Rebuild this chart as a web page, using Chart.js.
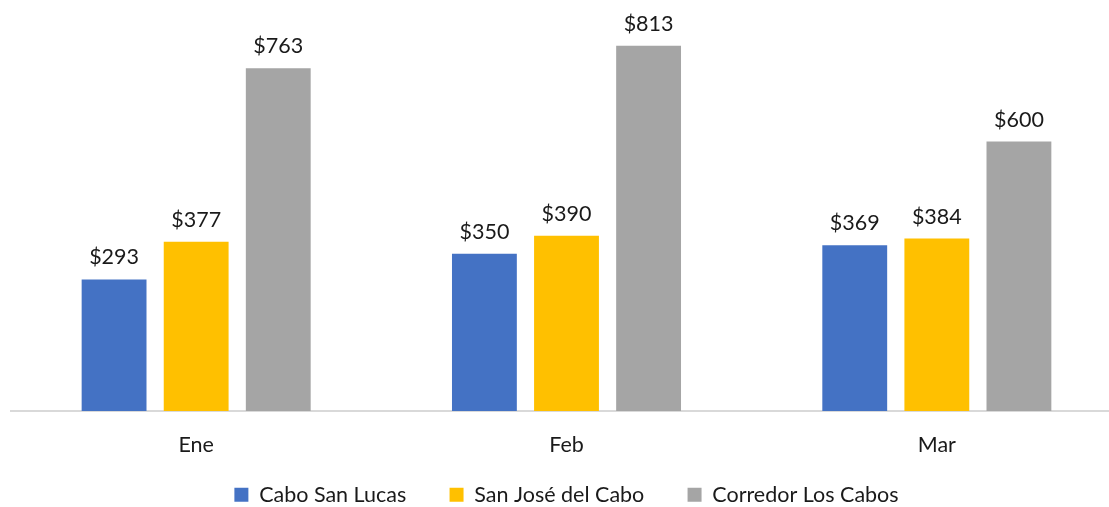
<!DOCTYPE html>
<html>
<head>
<meta charset="utf-8">
<script src="https://cdn.jsdelivr.net/npm/chart.js@4.4.0/dist/chart.umd.min.js"></script>
<style>
  html, body { margin: 0; padding: 0; background: #fff; overflow: hidden; }
  #wrap { width: 1125px; height: 507px; }
</style>
</head>
<body>
<div id="wrap"><canvas id="chart"></canvas></div>
<script>
// === DATA ===
const months = ['Ene', 'Feb', 'Mar'];
const caboSanLucas = [293, 350, 369];
const sanJoseDelCabo = [377, 390, 384];
const corredorLosCabos = [763, 813, 600];

const FONT = "Lato, 'Open Sans', sans-serif";
const FONT_SIZE = 21.5;
const TEXT = '#1a1a1a';

// value labels above each bar
const barLabels = {
    id: 'barLabels',
    afterDatasetsDraw(chart) {
        const ctx = chart.ctx;
        ctx.save();
        ctx.font = FONT_SIZE + 'px ' + FONT;
        ctx.fillStyle = TEXT;
        ctx.textAlign = 'center';
        ctx.textBaseline = 'alphabetic';
        chart.data.datasets.forEach((ds, i) => {
            chart.getDatasetMeta(i).data.forEach((bar, j) => {
                ctx.fillText('$' + ds.data[j], bar.x, bar.y - 15);
            });
        });
        ctx.restore();
    }
};

// pin the legend box height so the bottom layout matches
const legendHeight = {
    id: 'legendHeight',
    beforeLayout(chart) {
        const lg = chart.legend;
        if (!lg || lg._pinned) return;
        const fit = lg.fit;
        lg.fit = function () { fit.call(this); this.height = 50; };
        lg._pinned = true;
    }
};

new Chart(document.getElementById('chart'), {
    type: 'bar',
    data: {
        labels: months,
        datasets: [
            { label: 'Cabo San Lucas', data: caboSanLucas, backgroundColor: '#4472C4' },
            { label: 'San José del Cabo', data: sanJoseDelCabo, backgroundColor: '#FFC000' },
            { label: 'Corredor Los Cabos', data: corredorLosCabos, backgroundColor: '#A5A5A5' }
        ]
    },
    options: {
        responsive: true, maintainAspectRatio: false, animation: false,
        categoryPercentage: 0.665, barPercentage: 0.79,
        layout: { padding: { left: 11, right: 3, top: 9, bottom: 0 } },
        plugins: {
            tooltip: { enabled: false },
            legend: {
                position: 'bottom',
                labels: {
                    color: TEXT, font: { family: FONT, size: FONT_SIZE },
                    boxWidth: 14, boxHeight: 14, padding: 27,
                    generateLabels(chart) {
                        const items = Chart.defaults.plugins.legend.labels.generateLabels(chart);
                        items.forEach((it, i) => { if (i < items.length - 1) it.text += '\u2002 '; });
                        return items;
                    }
                }
            }
        },
        scales: {
            x: {
                grid: { display: false },
                border: { display: true, color: '#d9d9d9', width: 2 },
                ticks: { color: TEXT, font: { family: FONT, size: FONT_SIZE }, padding: 13 },
                afterFit(scale) { scale.height = 46; }
            },
            y: { display: false, min: 0, max: 895 }
        }
    },
    plugins: [barLabels, legendHeight]
});
</script>
</body>
</html>
